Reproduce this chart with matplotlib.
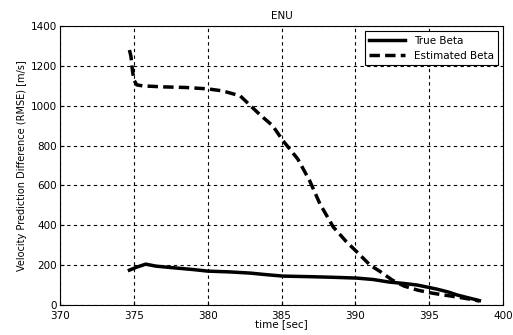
import matplotlib
matplotlib.use('Agg')
import matplotlib.pyplot as plt
import numpy as np

# values
t_true = [374.7, 375.2, 375.8, 376.5, 377.5, 379.0, 380.0, 381.5, 382.9, 384.0,
          385.1, 387.0, 388.5, 390.1, 391.2, 392.3, 393.3, 394.2, 395.5, 396.3, 396.9, 397.7, 398.4]
v_true = [175, 190, 205, 195, 188, 178, 170, 166, 160, 152,
          145, 142, 139, 135, 128, 115, 108, 100, 80, 65, 50, 35, 22]

t_est = [374.7, 374.8, 374.9, 375.0, 375.2, 375.6, 377.0, 378.5, 380.0, 381.0, 382.2,
         383.5, 384.4, 385.1, 386.1, 386.9, 387.6, 388.5, 389.4, 390.1,
         391.0, 391.7, 392.5, 393.3, 394.2, 395.0, 396.0, 396.9, 397.7, 398.4]
v_est = [1280, 1250, 1180, 1130, 1105, 1100, 1095, 1092, 1085, 1075, 1050,
         958, 900, 825, 733, 625, 508, 392, 317, 267,
         200, 167, 125, 95, 75, 62, 50, 40, 30, 20]

fig = plt.figure(figsize=(5.13, 3.35), dpi=100)
ax = fig.add_axes([0.117, 0.0896, 0.8635, 0.8324])
ax.plot(t_true, v_true, color='black', linewidth=2.5, label='True Beta')
ax.plot(t_est, v_est, color='black', linewidth=2.5, linestyle=(0, (3, 1.5)), label='Estimated Beta')
ax.set_xlim(370, 400)
ax.set_ylim(0, 1400)
ax.set_xticks(np.arange(370, 401, 5))
ax.set_yticks(np.arange(0, 1401, 200))
ax.grid(True, color='black', linestyle=(0, (3, 3)), linewidth=0.8)
ax.tick_params(labelsize=7.5, direction='in', length=3)
ax.tick_params(axis='x', pad=4)
ax.tick_params(axis='y', pad=2)
ax.set_title('ENU', fontsize=7.5, pad=5)
ax.set_xlabel('time [sec]', fontsize=7.5, labelpad=-1)
ax.set_ylabel('Velocity Prediction Difference (RMSE) [m/s]', fontsize=7, labelpad=3)
leg = ax.legend(loc='upper right', fontsize=7.5, fancybox=False, framealpha=1,
                edgecolor='black', borderaxespad=0.5, handlelength=3.5)
leg.get_frame().set_linewidth(0.8)
fig.savefig('out.png', dpi=100)
